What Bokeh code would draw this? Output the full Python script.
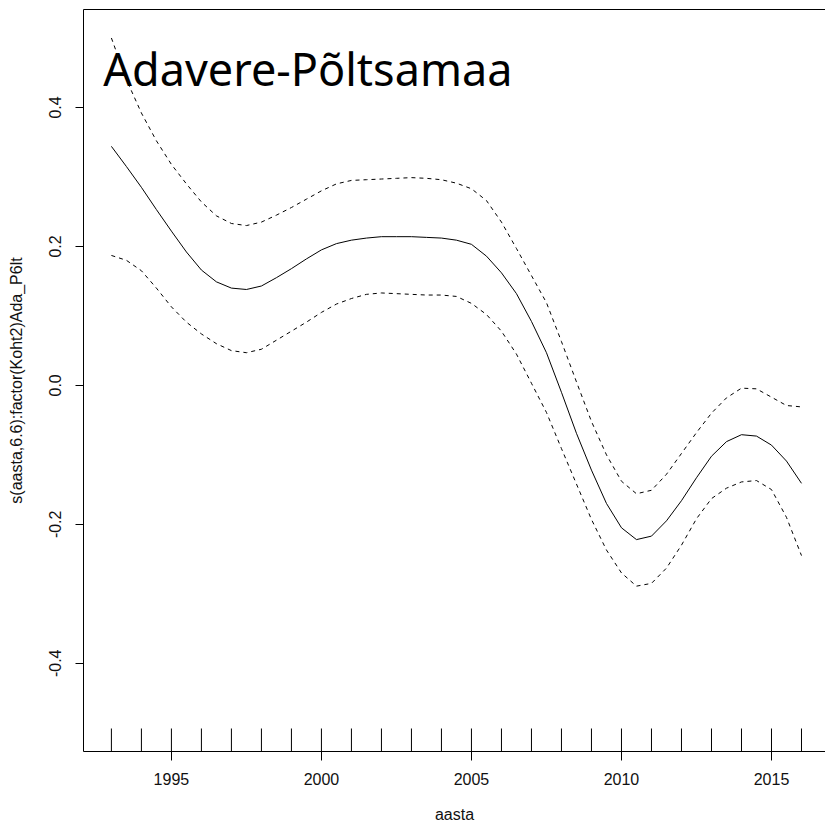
import math
from bokeh.plotting import figure
from bokeh.models import Range1d, FixedTicker, LinearAxis, Label, PrintfTickFormatter
from bokeh.embed import file_html
from bokeh.resources import INLINE
from bokeh.core.properties import value

# ---- data ----
aasta = [1993.0, 1993.5, 1994.0, 1994.5, 1995.0, 1995.5, 1996.0, 1996.5, 1997.0, 1997.5,
         1998.0, 1998.5, 1999.0, 1999.5, 2000.0, 2000.5, 2001.0, 2001.5, 2002.0, 2002.5,
         2003.0, 2003.5, 2004.0, 2004.5, 2005.0, 2005.5, 2006.0, 2006.5, 2007.0, 2007.5,
         2008.0, 2008.5, 2009.0, 2009.5, 2010.0, 2010.5, 2011.0, 2011.5, 2012.0, 2012.5,
         2013.0, 2013.5, 2014.0, 2014.5, 2015.0, 2015.5, 2016.0]

fit = [0.344, 0.315, 0.285, 0.253, 0.222, 0.192, 0.166, 0.149, 0.140, 0.138,
       0.143, 0.155, 0.168, 0.182, 0.195, 0.204, 0.209, 0.212, 0.214, 0.214,
       0.214, 0.213, 0.212, 0.209, 0.203, 0.186, 0.162, 0.132, 0.092, 0.047,
       -0.010, -0.069, -0.122, -0.170, -0.205, -0.222, -0.217, -0.195, -0.166, -0.133,
       -0.102, -0.081, -0.071, -0.073, -0.086, -0.109, -0.141]

upper = [0.500, 0.440, 0.392, 0.352, 0.318, 0.290, 0.264, 0.244, 0.233, 0.230,
         0.235, 0.245, 0.256, 0.268, 0.280, 0.290, 0.295, 0.296, 0.297, 0.298,
         0.299, 0.298, 0.296, 0.291, 0.283, 0.266, 0.235, 0.197, 0.158, 0.119,
         0.063, 0.005, -0.052, -0.100, -0.138, -0.156, -0.151, -0.128, -0.098, -0.068,
         -0.040, -0.018, -0.004, -0.005, -0.017, -0.029, -0.031]

lower = [0.187, 0.180, 0.165, 0.140, 0.113, 0.091, 0.074, 0.060, 0.050, 0.047,
         0.052, 0.065, 0.078, 0.091, 0.105, 0.117, 0.125, 0.131, 0.133, 0.132,
         0.131, 0.130, 0.130, 0.128, 0.118, 0.102, 0.078, 0.045, 0.003, -0.039,
         -0.091, -0.142, -0.193, -0.237, -0.270, -0.289, -0.285, -0.263, -0.230, -0.192,
         -0.163, -0.148, -0.139, -0.137, -0.150, -0.190, -0.245]

rug_years = list(range(1993, 2017))
x_ticks = [1995, 2000, 2005, 2010, 2015]
y_ticks = [-0.4, -0.2, 0.0, 0.2, 0.4]
title_text = "Adavere-Põltsamaa"
x_label = "aasta"
y_label = "s(aasta,6.6):factor(Koht2)Ada_P6lt"

# ---- figure ----
FONT = "Liberation Sans"
p = figure(width=825, height=826, output_backend="svg", toolbar_location=None,
           x_range=Range1d(1992.07, 2016.8), y_range=Range1d(-0.527, 0.541),
           min_border_left=83, min_border_right=0, min_border_top=9, min_border_bottom=75,
           background_fill_color="white", border_fill_color="white")
p.outline_line_color = None
p.xgrid.visible = False
p.ygrid.visible = False

for ax in (p.xaxis[0], p.yaxis[0]):
    ax.axis_line_color = "black"
    ax.axis_line_width = 1
    ax.major_tick_in = 0
    ax.minor_tick_line_color = None
    ax.major_tick_line_color = "black"
    ax.major_label_text_font = FONT
    ax.major_label_text_font_size = "16px"
    ax.major_label_text_color = "#111111"
    ax.axis_label_text_font = FONT
    ax.axis_label_text_font_size = "16px"
    ax.axis_label_text_font_style = "normal"
    ax.axis_label_text_color = "#111111"

p.xaxis.ticker = FixedTicker(ticks=x_ticks)
p.xaxis.major_tick_out = 9
p.xaxis.major_label_standoff = 12
p.xaxis.axis_label = x_label
p.xaxis.axis_label_standoff = 18

p.yaxis.ticker = FixedTicker(ticks=y_ticks)
p.yaxis.formatter = PrintfTickFormatter(format="%.1f")
p.yaxis.major_tick_out = 8
p.yaxis.major_label_orientation = "vertical"
p.yaxis.major_label_standoff = 14
p.yaxis.axis_label = y_label
p.yaxis.axis_label_standoff = 22

# top border of the box
top = LinearAxis(ticker=FixedTicker(ticks=[]), axis_line_color="black",
                 major_tick_out=0, major_tick_in=0, minor_tick_out=0, minor_tick_in=0,
                 major_label_text_font_size="0px", major_label_standoff=0)
p.add_layout(top, "above")

# ---- curves ----
p.line(aasta, fit, line_color="black", line_width=1)
p.line(aasta, upper, line_color="black", line_width=1, line_dash="4 4")
p.line(aasta, lower, line_color="black", line_width=1, line_dash="4 4")

# rug
y0 = p.y_range.start
p.scatter(x=rug_years, y=[y0] * len(rug_years), marker="dash", angle=math.pi / 2,
          size=46, line_color="black", line_width=1)

# title inside the plot
p.add_layout(Label(x=1992.73, y=0.456, text=title_text, text_font="Noto Sans",
                   text_font_size="45px", text_color="black", text_baseline="alphabetic"))

open("out.html", "w").write(file_html(p, INLINE))
